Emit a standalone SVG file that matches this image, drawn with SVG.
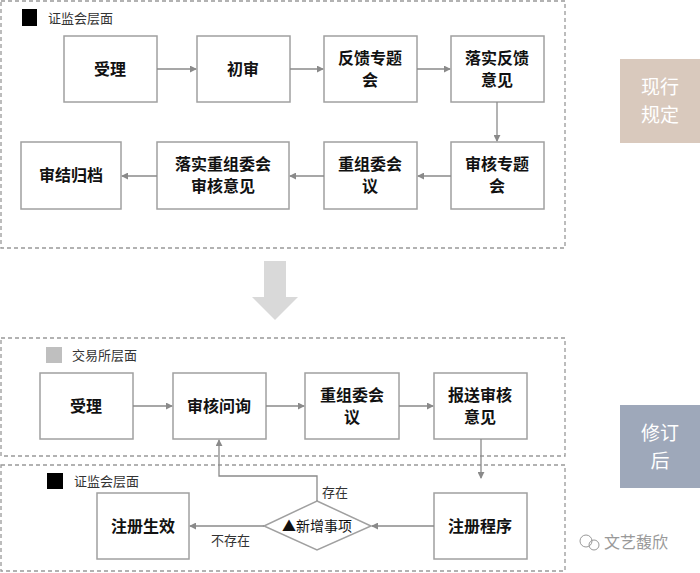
<svg xmlns="http://www.w3.org/2000/svg" width="700" height="573" viewBox="0 0 700 573">
<style>
.box{fill:#fff;stroke:#a0a0a0;stroke-width:1.5}
.dash{fill:none;stroke:#999;stroke-width:1.3;stroke-dasharray:4 3}
.t{font-family:"Noto Sans CJK SC",sans-serif;font-weight:bold;font-size:16px;fill:#111;text-anchor:middle}
.s{font-family:"Noto Sans CJK SC",sans-serif;font-size:13px;fill:#333}
.c{fill:none;stroke:#8a8a8a;stroke-width:1.3;marker-end:url(#a)}
.side{font-family:"Noto Sans CJK SC",sans-serif;font-size:19px;fill:#fff;text-anchor:middle}
</style>
<defs><marker id="a" viewBox="0 0 8 8" refX="7" refY="4" markerWidth="7" markerHeight="7" markerUnits="userSpaceOnUse" orient="auto"><path d="M0,0L8,4L0,8z" fill="#8a8a8a"/></marker></defs>
<rect class="dash" x="1" y="1" width="564" height="247"/>
<rect x="22" y="9" width="15" height="17" fill="#000"/>
<text class="s" x="48" y="23">证监会层面</text>
<g id="n1"><rect class="box" x="64" y="36" width="93" height="66"/><text class="t" x="110" y="75">受理</text></g>
<g id="n2"><rect class="box" x="197" y="36" width="93" height="66"/><text class="t" x="243" y="75">初审</text></g>
<g id="n3"><rect class="box" x="324" y="36" width="93" height="66"/><text class="t" x="370" y="64">反馈专题</text><text class="t" x="370" y="86">会</text></g>
<g id="n4"><rect class="box" x="451" y="36" width="93" height="66"/><text class="t" x="497" y="64">落实反馈</text><text class="t" x="497" y="86">意见</text></g>
<g id="n5"><rect class="box" x="451" y="142" width="93" height="67"/><text class="t" x="497" y="170">审核专题</text><text class="t" x="497" y="192">会</text></g>
<g id="n6"><rect class="box" x="324" y="142" width="93" height="67"/><text class="t" x="370" y="170">重组委会</text><text class="t" x="370" y="192">议</text></g>
<g id="n7"><rect class="box" x="157" y="142" width="132" height="67"/><text class="t" x="223" y="170">落实重组委会</text><text class="t" x="223" y="192">审核意见</text></g>
<g id="n8"><rect class="box" x="21" y="142" width="100" height="67"/><text class="t" x="71" y="181">审结归档</text></g>
<g id="side1"><rect x="620" y="59" width="80" height="84" fill="#d9c9bd"/><text class="side" x="660" y="94">现行</text><text class="side" x="660" y="122">规定</text></g>
<g id="bigarrow"><path d="M264,261H286V297H298L275,320L252,297H264Z" fill="#d9d9d9"/></g>
<rect class="dash" x="1" y="338" width="564" height="118"/>
<rect x="46" y="347" width="16" height="16" fill="#bfbfbf"/>
<text class="s" x="72" y="360">交易所层面</text>
<rect class="dash" x="1" y="465" width="564" height="106"/>
<rect x="47" y="473" width="16" height="16" fill="#000"/>
<text class="s" x="74" y="486">证监会层面</text>
<g id="m1"><rect class="box" x="40" y="373" width="93" height="66"/><text class="t" x="86" y="412">受理</text></g>
<g id="m2"><rect class="box" x="173" y="373" width="93" height="66"/><text class="t" x="219" y="412">审核问询</text></g>
<g id="m3"><rect class="box" x="305" y="373" width="94" height="66"/><text class="t" x="352" y="401">重组委会</text><text class="t" x="352" y="423">议</text></g>
<g id="m4"><rect class="box" x="434" y="373" width="93" height="66"/><text class="t" x="480" y="401">报送审核</text><text class="t" x="480" y="423">意见</text></g>
<g id="m5"><rect class="box" x="434" y="493" width="93" height="66"/><text class="t" x="480" y="532">注册程序</text></g>
<g id="m6"><rect class="box" x="97" y="493" width="92" height="66"/><text class="t" x="143" y="532">注册生效</text></g>
<g id="m7"><polygon points="317,501 371,526 317,550 264,526" fill="#fff" stroke="#a0a0a0" stroke-width="1.5"/><text x="317" y="531" font-family="Noto Sans CJK SC,sans-serif" font-size="14" fill="#111" text-anchor="middle">▲新增事项</text></g>
<g id="side2"><rect x="620" y="405" width="80" height="83" fill="#9ea8ba"/><text class="side" x="660" y="440">修订</text><text class="side" x="660" y="468">后</text></g>
<g id="connectors">
<path class="c" d="M157,69H196"/>
<path class="c" d="M290,69H323"/>
<path class="c" d="M417,69H450"/>
<path class="c" d="M497,102V141"/>
<path class="c" d="M451,176H418"/>
<path class="c" d="M324,176H290"/>
<path class="c" d="M157,176H122"/>
<path class="c" d="M133,406H172"/>
<path class="c" d="M266,406H304"/>
<path class="c" d="M399,406H433"/>
<path class="c" d="M481,439V478"/>
<path class="c" d="M434,526H372"/>
<path class="c" d="M264,526H190"/>
<path class="c" d="M317,501V476H219V440"/>
</g>
<text class="s" x="322" y="497">存在</text>
<text class="s" x="211" y="545">不存在</text>
<g id="watermark"><circle cx="586" cy="541" r="6" fill="none" stroke="#999"/><circle cx="594" cy="545" r="5" fill="none" stroke="#999"/><text x="604" y="548" font-family="Noto Sans CJK SC,sans-serif" font-size="16" fill="#999">文艺馥欣</text></g>
</svg>
